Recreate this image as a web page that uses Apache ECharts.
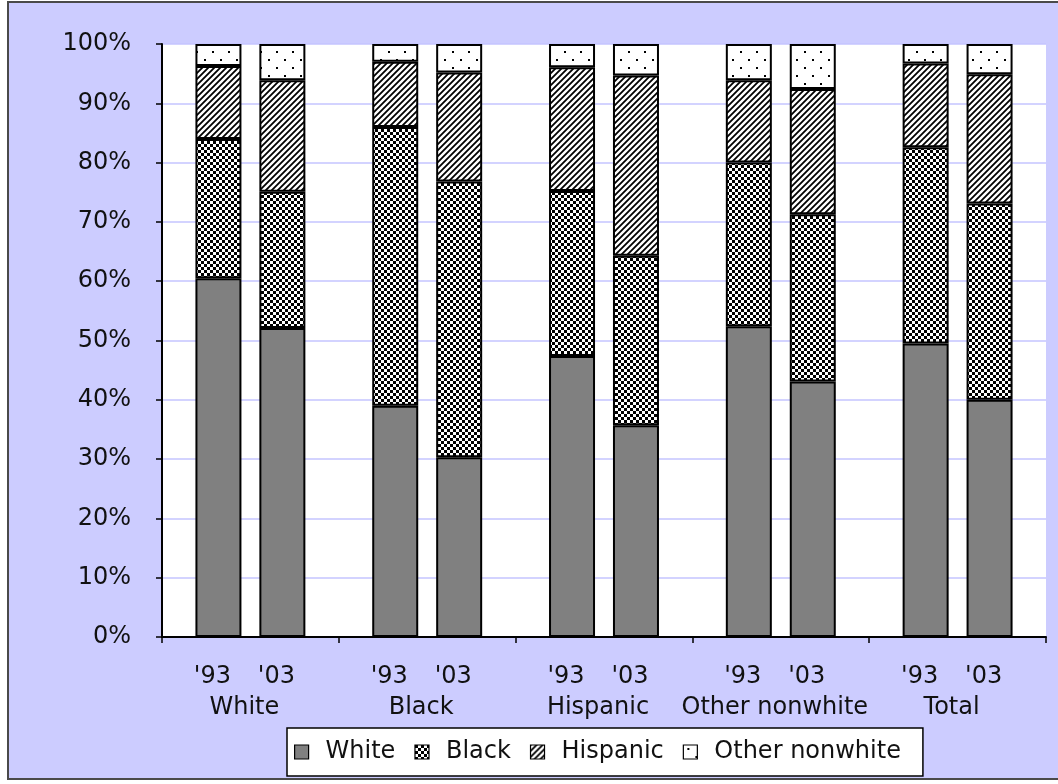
<!DOCTYPE html>
<html>
<head>
<meta charset="utf-8">
<title>Share by race/ethnicity, '93 vs '03</title>
<script src="https://cdn.jsdelivr.net/npm/echarts@6/dist/echarts.min.js"></script>
<style>
  html, body { margin: 0; padding: 0; background: #ffffff; overflow: hidden; }
  #frame {
    position: absolute; left: 7px; top: 1px; width: 1100px; height: 779px;
    background: #ccccff; border: 2px solid #4a4a4a; box-sizing: border-box;
  }
  #chart { position: absolute; left: 0; top: 0; width: 1058px; height: 784px; }
</style>
</head>
<body>
<div id="frame"></div>
<div id="chart"></div>
<script>
// Groups on the x axis and the two survey years within each group
var categories = ['White', 'Black', 'Hispanic', 'Other nonwhite', 'Total'];
var years = ["'93", "'03"];
var seriesNames = ['White', 'Black', 'Hispanic', 'Other nonwhite'];

// Percent shares, one value per group, for each year
var white93 = [60.5, 39.0, 47.4, 52.4, 49.5];
var black93 = [23.5, 47.0, 27.8, 27.6, 33.1];
var hispanic93 = [12.3, 11.0, 20.9, 13.9, 14.1];
var other93 = [3.7, 3.0, 3.9, 6.1, 3.3];

var white03 = [52.1, 30.3, 35.7, 43.1, 40.0];
var black03 = [23.0, 46.5, 28.6, 28.2, 33.1];
var hispanic03 = [18.8, 18.4, 30.4, 21.1, 21.8];
var other03 = [6.1, 4.8, 5.3, 7.6, 5.1];

var yTicks = [0, 10, 20, 30, 40, 50, 60, 70, 80, 90, 100];

// Fill patterns drawn on small canvases
function tile(w, h, draw) {
  var c = document.createElement('canvas');
  c.width = w; c.height = h;
  var ctx = c.getContext('2d');
  ctx.fillStyle = '#ffffff';
  ctx.fillRect(0, 0, w, h);
  draw(ctx);
  return { image: c, repeat: 'repeat' };
}
var checkerFill = tile(6, 6, function (ctx) {
  ctx.fillStyle = '#000000';
  ctx.fillRect(0, 0, 3, 3);
  ctx.fillRect(3, 3, 3, 3);
});
var hatchFill = tile(6, 6, function (ctx) {
  ctx.strokeStyle = '#000000';
  ctx.lineWidth = 1.8;
  ctx.beginPath();
  ctx.moveTo(-1, 7); ctx.lineTo(7, -1);
  ctx.moveTo(-1, 1); ctx.lineTo(1, -1);
  ctx.moveTo(5, 7); ctx.lineTo(7, 5);
  ctx.stroke();
});
var dotFill = tile(16, 16, function (ctx) {
  ctx.fillStyle = '#000000';
  ctx.fillRect(4, 3, 2, 2);
  ctx.fillRect(12, 11, 2, 2);
});
var fills = {
  'White': '#808080',
  'Black': checkerFill,
  'Hispanic': hatchFill,
  'Other nonwhite': dotFill
};

var valuesByYear = {
  "'93": { 'White': white93, 'Black': black93, 'Hispanic': hispanic93, 'Other nonwhite': other93 },
  "'03": { 'White': white03, 'Black': black03, 'Hispanic': hispanic03, 'Other nonwhite': other03 }
};

var FONT = 'DejaVu Sans';
var series = [];
years.forEach(function (yr) {
  seriesNames.forEach(function (name) {
    series.push({
      name: name,
      type: 'bar',
      stack: yr,
      barWidth: 46,
      barGap: '39%',
      data: valuesByYear[yr][name],
      itemStyle: { color: fills[name], borderColor: '#000000', borderWidth: 2 },
      emphasis: { disabled: true }
    });
  });
});

var chart = echarts.init(document.getElementById('chart'), null, { renderer: 'canvas' });
chart.setOption({
  backgroundColor: 'transparent',
  animation: false,
  textStyle: { fontFamily: FONT },
  grid: { left: 162, right: 12, top: 44, bottom: 147, containLabel: false,
          show: true, backgroundColor: '#ffffff', borderWidth: 0 },
  legend: {
    data: seriesNames,
    left: 287, top: 728,
    orient: 'horizontal',
    icon: 'rect',
    itemWidth: 14, itemHeight: 14,
    itemGap: 19,
    padding: [12, 22, 12, 7],
    backgroundColor: '#ffffff',
    borderColor: '#000000', borderWidth: 1.5,
    selectedMode: false,
    textStyle: { fontFamily: FONT, fontSize: 24, color: '#111111', padding: [0, 0, 0, 12] },
    itemStyle: { borderColor: '#000000', borderWidth: 1.2 }
  },
  xAxis: {
    type: 'category',
    data: categories,
    boundaryGap: true,
    axisLine: { lineStyle: { color: '#000000', width: 2 } },
    axisTick: { show: true, length: 6, interval: 0, lineStyle: { color: '#000000', width: 1.5 } },
    splitLine: { show: false },
    axisLabel: {
      interval: 0,
      margin: 24,
      padding: [0, 12, 0, 0],
      color: '#111111',
      fontFamily: FONT,
      fontSize: 24,
      lineHeight: 31,
      formatter: function (v) {
        return '{y|' + years[0] + '}{y|' + years[1] + '}\n{g|' + v + '}';
      },
      rich: {
        y: { width: 64, align: 'center', fontFamily: FONT, fontSize: 24, lineHeight: 31, color: '#111111' },
        g: { fontFamily: FONT, fontSize: 24, lineHeight: 31, color: '#111111' }
      }
    }
  },
  yAxis: {
    type: 'value',
    min: yTicks[0],
    max: yTicks[yTicks.length - 1],
    interval: yTicks[1] - yTicks[0],
    axisLine: { show: true, lineStyle: { color: '#000000', width: 2 } },
    axisTick: { show: true, length: 6, lineStyle: { color: '#000000', width: 1.5 } },
    splitLine: { show: true, lineStyle: { color: '#c4c4ff', width: 1.5 } },
    axisLabel: {
      margin: 31,
      color: '#111111',
      fontFamily: FONT,
      fontSize: 24,
      formatter: '{value}%'
    }
  },
  series: series
});
</script>
</body>
</html>
